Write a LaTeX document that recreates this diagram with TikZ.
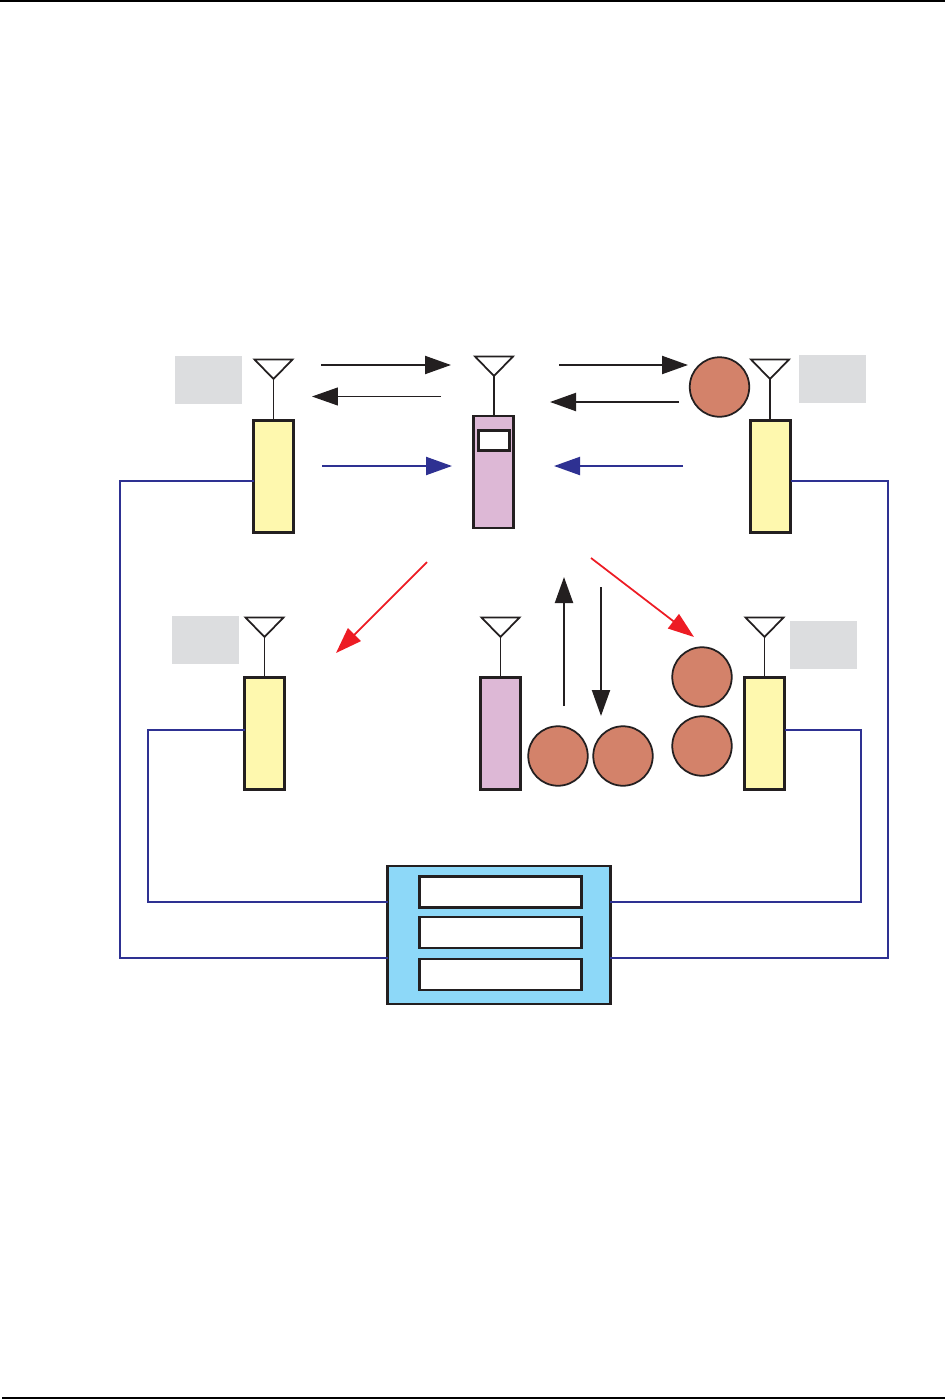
\documentclass[tikz,border=0pt]{standalone}
\usetikzlibrary{arrows.meta}
\definecolor{inkblack}{HTML}{231F20}
\definecolor{linkblue}{HTML}{2E3192}
\definecolor{alarmred}{HTML}{ED1C24}
\definecolor{bsyellow}{HTML}{FEF8AE}
\definecolor{mspurple}{HTML}{DDB8D6}
\definecolor{cellsalmon}{HTML}{D3826A}
\definecolor{tagGrey}{HTML}{DCDDDF}
\definecolor{ctrlblue}{HTML}{8DD8F8}
\tikzset{
	bsbox/.style={draw=inkblack, fill=bsyellow, line width=1.2pt, minimum width=0.8cm, minimum height=2.24cm, inner sep=0pt, outer sep=0pt},
	msbox/.style={bsbox, fill=mspurple},
	cellnode/.style={circle, draw=inkblack, fill=cellsalmon, line width=1pt, minimum size=1.19cm, inner sep=0pt, outer sep=0pt},
	tagbox/.style={fill=tagGrey, minimum width=1.34cm, minimum height=0.96cm, inner sep=0pt, outer sep=0pt},
	slotbox/.style={draw=inkblack, fill=white, line width=1.2pt, minimum width=3.24cm, minimum height=0.62cm, inner sep=0pt, outer sep=0pt},
	antenna/.style={draw=inkblack, line width=1pt, line join=miter},
	link/.style={draw=linkblue, line width=0.95pt},
	sigblack/.style={draw=inkblack, line width=1.2pt, -{Triangle[length=0.52cm, width=0.36cm, fill=inkblack]}},
	sigthin/.style={sigblack, line width=0.65pt},
	sigblue/.style={draw=linkblue, line width=1.2pt, -{Triangle[length=0.52cm, width=0.36cm, fill=linkblue]}},
	sigred/.style={draw=alarmred, line width=1pt, -{Triangle[length=0.52cm, width=0.36cm, fill=alarmred]}}
}
\begin{document}
\begin{tikzpicture}[x=0.02cm, y=-0.02cm]
	\useasboundingbox (0,0) rectangle (945,1399);
	\draw [line width=1.2pt, black] (0,1) -- (945,1);
	\draw [line width=1.2pt, black] (2,1398) -- (945,1398);
	
	\node [tagbox] (tagtl) at (208.5,380) {};
	\node [tagbox] (tagtr) at (832.5,379) {};
	\node [tagbox] (tagbl) at (205.5,640) {};
	\node [tagbox] (tagbr) at (823.5,645) {};
	
	\node [bsbox] (bstl) at (273.5,476.5) {};
	\node [bsbox] (bstr) at (770.5,476.5) {};
	\node [bsbox] (bsbl) at (264.5,733.5) {};
	\node [bsbox] (bsbr) at (764.5,733.5) {};
	\node [msbox] (mstop) at (493.5,472) {};
	\node [msbox] (msbot) at (500.5,733.5) {};
	\node [draw=inkblack, fill=white, line width=1.2pt, minimum width=0.62cm, minimum height=0.4cm, inner sep=0pt, outer sep=0pt] (mstopscreen) at (494,440.5) {};
	
	\node [cellnode] (celltop) at (719.5,387) {};
	\node [cellnode] (cella) at (558,756) {};
	\node [cellnode] (cellb) at (623,756) {};
	\node [cellnode] (cellc) at (702,677) {};
	\node [cellnode] (celld) at (702,746) {};
	
	\node [draw=inkblack, fill=ctrlblue, line width=1.2pt, minimum width=4.46cm, minimum height=2.76cm, inner sep=0pt, outer sep=0pt] (ctrl) at (499,935) {};
	\node [slotbox] (slota) at (500.5,892) {};
	\node [slotbox] (slotb) at (500.5,932.5) {};
	\node [slotbox] (slotc) at (500.5,974.5) {};
	
	% antennas
	\coordinate (anttl) at (273.5,379);
	\coordinate (anttr) at (770,379);
	\coordinate (antms) at (494,376);
	\coordinate (antbl) at (264.5,637);
	\coordinate (antbm) at (500.5,637);
	\coordinate (antbr) at (764.5,637);
	\draw [antenna] (254.5,359.5) -- (292.5,359.5) -- (anttl) -- cycle;
	\draw [antenna] (751,359.5) -- (789,359.5) -- (anttr) -- cycle;
	\draw [antenna] (475,356.5) -- (513,356.5) -- (antms) -- cycle;
	\draw [antenna] (245.5,617.5) -- (283.5,617.5) -- (antbl) -- cycle;
	\draw [antenna] (481.5,617.5) -- (519.5,617.5) -- (antbm) -- cycle;
	\draw [antenna] (745.5,617.5) -- (783.5,617.5) -- (antbr) -- cycle;
	\draw [antenna, line width=1.1pt] (anttl) -- (anttl |- bstl.north);
	\draw [antenna, line width=1.1pt] (anttr) -- (anttr |- bstr.north);
	\draw [antenna, line width=1.1pt] (antms) -- (antms |- mstop.north);
	\draw [antenna, line width=0.65pt] (antbl) -- (antbl |- bsbl.north);
	\draw [antenna, line width=1.1pt] (antbm) -- (antbm |- msbot.north);
	\draw [antenna, line width=0.65pt] (antbr) -- (antbr |- bsbr.north);
	
	% backhaul
	\coordinate (outla) at (120,481);
	\coordinate (outlb) at (120,958);
	\coordinate (outra) at (888,481);
	\coordinate (outrb) at (888,958);
	\coordinate (innla) at (148,730);
	\coordinate (innlb) at (148,902);
	\coordinate (innra) at (861,730);
	\coordinate (innrb) at (861,902);
	\draw [link, line width=1.2pt] (bstl.west |- outla) -- (outla) -- (outlb) -- (ctrl.west |- outlb);
	\draw [link] (bstr.east |- outra) -- (outra) -- (outrb) -- (ctrl.east |- outrb);
	\draw [link] (bsbl.west |- innla) -- (innla) -- (innlb) -- (ctrl.west |- innlb);
	\draw [link] (bsbr.east |- innra) -- (innra) -- (innrb) -- (ctrl.east |- innrb);
	
	% signals
	\coordinate (sigas) at (321,365);
	\coordinate (sigae) at (451,365);
	\coordinate (sigbs) at (441,396.5);
	\coordinate (sigbe) at (312,396.5);
	\coordinate (sigcs) at (322,466);
	\coordinate (sigce) at (452,466);
	\coordinate (sigds) at (559,365);
	\coordinate (sigde) at (688,365);
	\coordinate (siges) at (679,402);
	\coordinate (sigee) at (550,402);
	\coordinate (sigfs) at (683,466);
	\coordinate (sigfe) at (554,466);
	\coordinate (siggs) at (427,562);
	\coordinate (sigge) at (336,653);
	\coordinate (sighs) at (591,558);
	\coordinate (sighe) at (694,637);
	\coordinate (sigis) at (564,706);
	\coordinate (sigie) at (564,577);
	\coordinate (sigjs) at (601,587);
	\coordinate (sigje) at (601,716);
	\draw [sigblack] (sigas) -- (sigae);
	\draw [sigthin] (sigbs) -- (sigbe);
	\draw [sigblue] (sigcs) -- (sigce);
	\draw [sigblack] (sigds) -- (sigde);
	\draw [sigblack] (siges) -- (sigee);
	\draw [sigblue] (sigfs) -- (sigfe);
	\draw [sigred] (siggs) -- (sigge);
	\draw [sigred] (sighs) -- (sighe);
	\draw [sigblack] (sigis) -- (sigie);
	\draw [sigblack] (sigjs) -- (sigje);
\end{tikzpicture}
\end{document}
